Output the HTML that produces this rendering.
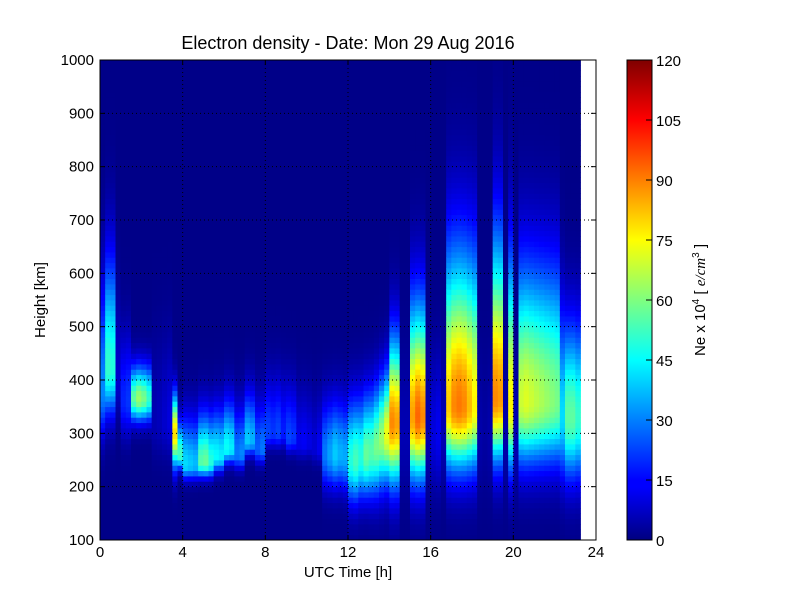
<!DOCTYPE html>
<html><head><meta charset="utf-8"><style>
body{margin:0;background:#fff;}
svg text{font-family:"Liberation Sans","DejaVu Sans",sans-serif;}
</style></head><body>
<svg id="chart" width="800" height="600" viewBox="0 0 800 600" xmlns="http://www.w3.org/2000/svg">
<rect width="800" height="600" fill="#fff"/>
<text x="348" y="49" font-size="18" text-anchor="middle">Electron density - Date: Mon 29 Aug 2016</text>
<g id="heat"></g>
<g id="grid"></g>
<rect x="100" y="60" width="496" height="480" fill="none" stroke="#000" stroke-width="1"/>
<g id="axes"></g>
<text x="348" y="577" font-size="15" text-anchor="middle">UTC Time [h]</text>
<text x="45" y="300" font-size="15" text-anchor="middle" transform="rotate(-90 45 300)">Height [km]</text>
<defs><linearGradient id="jet" x1="0" y1="1" x2="0" y2="0">
<stop offset="0" stop-color="#00007f"/><stop offset="0.11" stop-color="#0000ff"/><stop offset="0.125" stop-color="#0000ff"/><stop offset="0.375" stop-color="#00ffff"/><stop offset="0.5" stop-color="#7fff7f"/><stop offset="0.625" stop-color="#ffff00"/><stop offset="0.875" stop-color="#ff0000"/><stop offset="1" stop-color="#7f0000"/>
</linearGradient></defs>
<rect x="627" y="60" width="25" height="480" fill="url(#jet)" stroke="#000" stroke-width="1"/>
<g id="cbar"></g>
<text x="705" y="300" font-size="15" text-anchor="middle" transform="rotate(-90 705 300)">Ne x 10<tspan dy="-6" font-size="10">4</tspan><tspan dy="6">  [ </tspan><tspan font-style="italic" font-family="Liberation Serif, serif">e/cm</tspan><tspan dy="-6" font-size="10">3</tspan><tspan dy="6">  ]</tspan></text>
</svg>
<script>
// per-column (0.25 h) ionospheric profile parameters
const colStart = 0, colStep = 0.25;
const peakDensity = [30,50,48,8,18,20,55,62,58,50,5,6,8,10,78,52,40,38,36,54,56,48,44,42,45,42,28,30,38,35,25,28,22,20,22,17,22,20,12,13,11,9,12,28,33,38,35,34,48,52,48,56,54,58,62,72,88,85,5,5,85,92,88,5,10,12,5,80,88,90,88,82,75,4,3,4,88,86,4,75,5,68,70,68,66,64,62,60,58,40,55,55,50];
const peakHeight = [380,420,420,400,360,360,365,365,365,365,320,320,320,320,300,260,240,240,240,245,245,245,255,255,270,270,260,260,285,285,270,270,300,300,300,300,290,290,280,280,280,270,270,260,260,260,260,255,250,250,255,260,265,275,290,300,320,320,300,300,330,330,330,300,300,300,300,350,350,350,350,350,350,300,300,300,365,365,300,350,300,360,360,360,360,360,360,360,360,330,330,330,330];
const topScale = [200,200,200,150,120,120,60,60,60,60,150,150,150,150,70,60,90,90,90,90,90,90,90,90,90,90,90,90,90,90,90,90,100,100,100,100,100,100,100,100,100,100,100,100,100,100,100,100,110,110,110,110,110,110,110,110,150,150,150,150,200,200,200,150,150,150,150,270,270,270,270,270,270,150,150,150,280,280,150,260,150,240,240,240,240,240,240,240,240,200,170,170,170];
const bottomScale = [80,80,80,60,60,60,40,40,40,40,60,60,60,60,60,25,25,25,25,25,25,25,25,25,25,25,25,25,25,25,25,25,25,25,25,25,25,25,25,25,25,25,25,60,60,60,60,60,75,75,75,75,80,85,90,90,110,110,110,110,110,110,110,100,100,100,100,110,110,110,110,110,110,110,110,110,110,110,110,110,110,110,110,110,110,110,110,110,110,110,110,110,110];
const xTicks = [0,4,8,12,16,20,24];
const yTicks = [100,200,300,400,500,600,700,800,900,1000];
const cTicks = [0,15,30,45,60,75,90,105,120];

const X0=100,X1=596,Y0=540,Y1=60;
const xS=t=>X0+(t/24)*(X1-X0);
const yS=h=>Y0-(h-100)/900*(Y0-Y1);
function jet(v){const x=Math.max(0,Math.min(1,v/120));const c=k=>Math.round(255*Math.max(0,Math.min(1,1.5-Math.abs(4*x-k))));return `rgb(${c(3)},${c(2)},${c(1)})`;}
const NS="http://www.w3.org/2000/svg";
const heat=document.getElementById('heat');
for(let i=0;i<peakDensity.length;i++){
  const t0=colStart+i*colStep,t1=t0+colStep;
  const xa=xS(t0),xb=xS(t1);
  for(let h=100;h<1000;h+=10){
    const hc=h+5;const H=hc>peakHeight[i]?topScale[i]:bottomScale[i];
    const z=(hc-peakHeight[i])/H;
    const v=peakDensity[i]*Math.exp(-z*z)+1;
    const r=document.createElementNS(NS,'rect');
    
    
    r.setAttribute('x',xa.toFixed(2));r.setAttribute('y',yS(h+10).toFixed(2));
    r.setAttribute('width',(xb-xa+0.4).toFixed(2));r.setAttribute('height',(yS(h)-yS(h+10)+0.4).toFixed(2));
    r.setAttribute('fill',jet(v));
    heat.appendChild(r);
  }
}
const grid=document.getElementById('grid'),axes=document.getElementById('axes');
function line(p,x1,y1,x2,y2,dash,name){const l=document.createElementNS(NS,'line');l.setAttribute('x1',x1);l.setAttribute('y1',y1);l.setAttribute('x2',x2);l.setAttribute('y2',y2);l.setAttribute('stroke','#000');l.setAttribute('stroke-width','1');if(dash)l.setAttribute('stroke-dasharray','1,3');


p.appendChild(l);}
function text(p,x,y,s,anchor,name){const t=document.createElementNS(NS,'text');t.setAttribute('x',x);t.setAttribute('y',y);t.setAttribute('font-size','15');t.setAttribute('text-anchor',anchor);t.textContent=s;


p.appendChild(t);}
xTicks.forEach(v=>{const x=xS(v);if(v>0&&v<24)line(grid,x,Y1,x,Y0,true,'x-grid-line');line(axes,x,Y0,x,Y0-5,false,'x-tick');line(axes,x,Y1,x,Y1+5,false,'x-tick');text(axes,x,557,String(v),'middle','x-tick-label');});
yTicks.forEach(v=>{const y=yS(v);if(v>100&&v<1000)line(grid,X0,y,X1,y,true,'y-grid-line');line(axes,X0,y,X0+5,y,false,'y-tick');line(axes,X1,y,X1-5,y,false,'y-tick');text(axes,94,y+5,String(v),'end','y-tick-label');});
const cb=document.getElementById('cbar');
cTicks.forEach(v=>{const y=540-v/120*480;line(cb,646,y,652,y,false,'colorbar-tick');text(cb,656,y+6,String(v),'start','colorbar-tick-label');});
</script>
</body></html>
